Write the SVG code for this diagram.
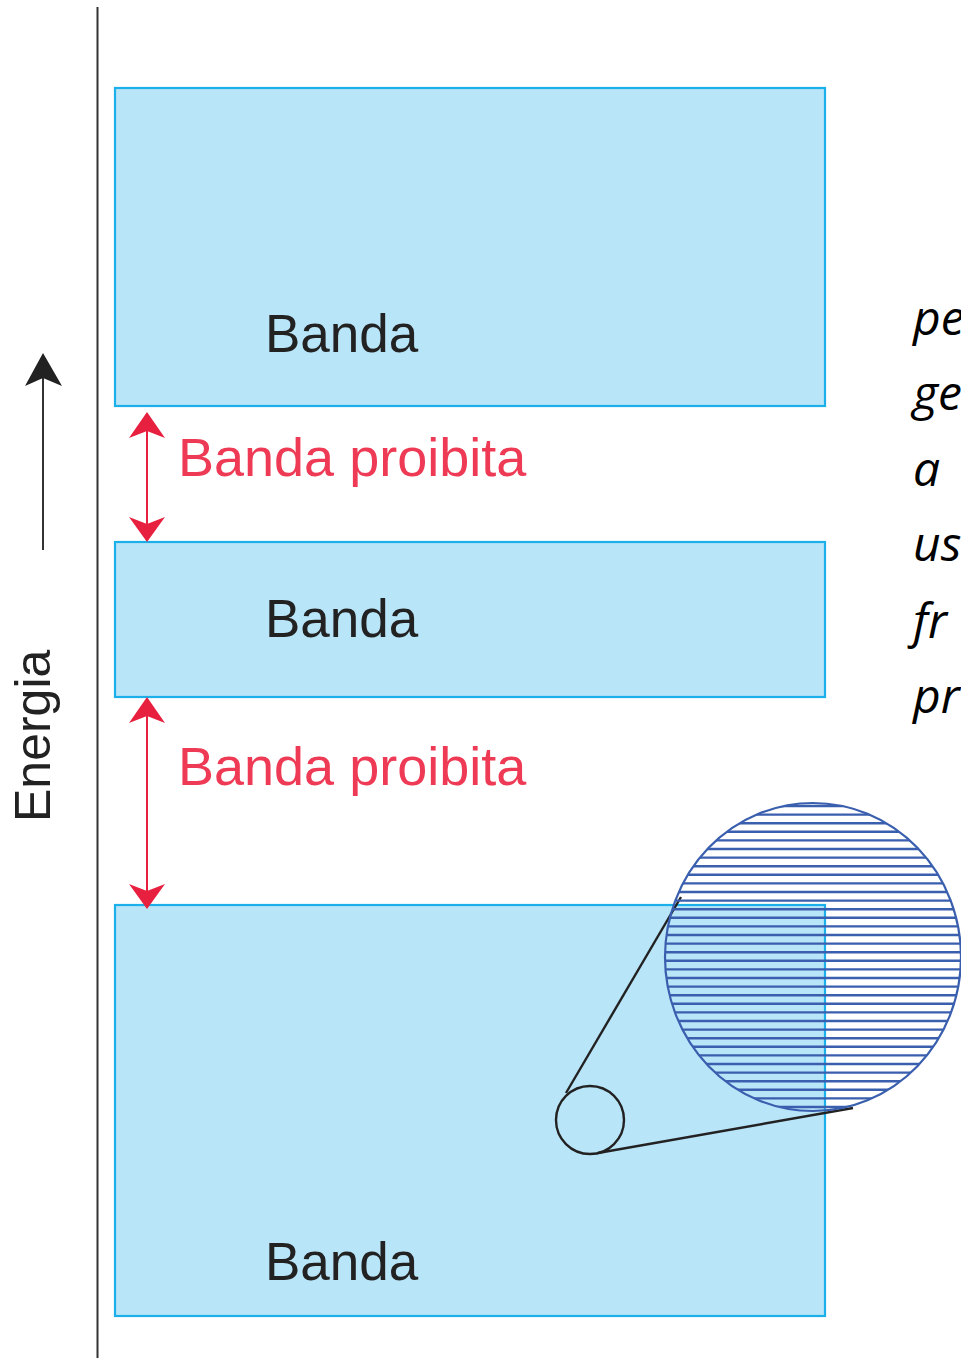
<svg xmlns="http://www.w3.org/2000/svg" width="961" height="1358" viewBox="0 0 961 1358">
<style>
.band{fill:#b9e5f9;stroke:#1cb0eb;stroke-width:2.2}
.lbl{font-family:"Liberation Sans",Arial,sans-serif;font-size:53px;fill:#222}
.red{font-family:"Liberation Sans",Arial,sans-serif;font-size:54px;fill:#ee3a55}
.rline{stroke:#e8203f;stroke-width:2}
.side{font-family:"Open Sans",sans-serif;font-style:italic;font-size:48px;fill:#000}
.stripe{stroke:#3a5fae;stroke-width:2.4}
</style>
<defs>
<clipPath id="lens"><ellipse cx="813" cy="957" rx="148" ry="154"/></clipPath>
</defs>
<g id="axis">
<line x1="97.5" y1="7" x2="97.5" y2="1358" stroke="#333" stroke-width="2"/>
</g>
<g id="energy-arrow">
<line x1="43" y1="550" x2="43" y2="375" stroke="#333" stroke-width="2"/>
<path d="M43,353 L62,386 L43,378 L25,386 Z" fill="#222"/>
<text class="lbl" transform="translate(50,822) rotate(-90)" style="font-size:50px">Energia</text>
</g>
<g id="band-top">
<rect class="band" x="115" y="88" width="710" height="318"/>
<text class="lbl" x="265" y="352">Banda</text>
</g>
<g id="band-mid">
<rect class="band" x="115" y="542" width="710" height="155"/>
<text class="lbl" x="265" y="637">Banda</text>
</g>
<g id="band-bottom">
<rect class="band" x="115" y="905" width="710" height="411"/>
<text class="lbl" x="265" y="1280">Banda</text>
</g>
<g id="connectors">
<line class="rline" x1="147" y1="425" x2="147" y2="530"/>
<path d="M147,412 L165,438 L147,431 L129,438 Z" fill="#e8203f"/>
<path d="M147,542 L165,517 L147,524 L129,517 Z" fill="#e8203f"/>
<line class="rline" x1="147" y1="710" x2="147" y2="896"/>
<path d="M147,697 L165,723 L147,716 L129,723 Z" fill="#e8203f"/>
<path d="M147,909 L165,884 L147,891 L129,884 Z" fill="#e8203f"/>
<line x1="566" y1="1093" x2="681" y2="897" stroke="#222" stroke-width="2.4"/>
<line x1="598" y1="1153" x2="853" y2="1108" stroke="#222" stroke-width="2.4"/>
</g>
<g id="gap-labels">
<text class="red" x="178" y="476">Banda proibita</text>
<text class="red" x="178" y="785">Banda proibita</text>
</g>
<g id="small-circle">
<circle cx="590" cy="1120" r="34" fill="none" stroke="#222" stroke-width="2.4"/>
</g>
<g id="magnifier">
<g clip-path="url(#lens)">
<path class="stripe" d="M660,806H970M660,814.6H970M660,823.2H970M660,831.8H970M660,840.4H970M660,849H970M660,857.6H970M660,866.2H970M660,874.8H970M660,883.4H970M660,892H970M660,900.6H970M660,909.2H970M660,917.8H970M660,926.4H970M660,935H970M660,943.6H970M660,952.2H970M660,960.8H970M660,969.4H970M660,978H970M660,986.6H970M660,995.2H970M660,1003.8H970M660,1012.4H970M660,1021H970M660,1029.6H970M660,1038.2H970M660,1046.8H970M660,1055.4H970M660,1064H970M660,1072.6H970M660,1081.2H970M660,1089.8H970M660,1098.4H970M660,1107H970"/>
</g>
<ellipse cx="813" cy="957" rx="148" ry="154" fill="none" stroke="#3a5fae" stroke-width="2.2"/>
</g>
<g id="side-text">
<text class="side" x="913" y="335">pe</text>
<text class="side" x="913" y="410">ge</text>
<text class="side" x="913" y="486">a</text>
<text class="side" x="913" y="561">us</text>
<text class="side" x="913" y="638">fr</text>
<text class="side" x="913" y="713">pr</text>
</g>
</svg>
